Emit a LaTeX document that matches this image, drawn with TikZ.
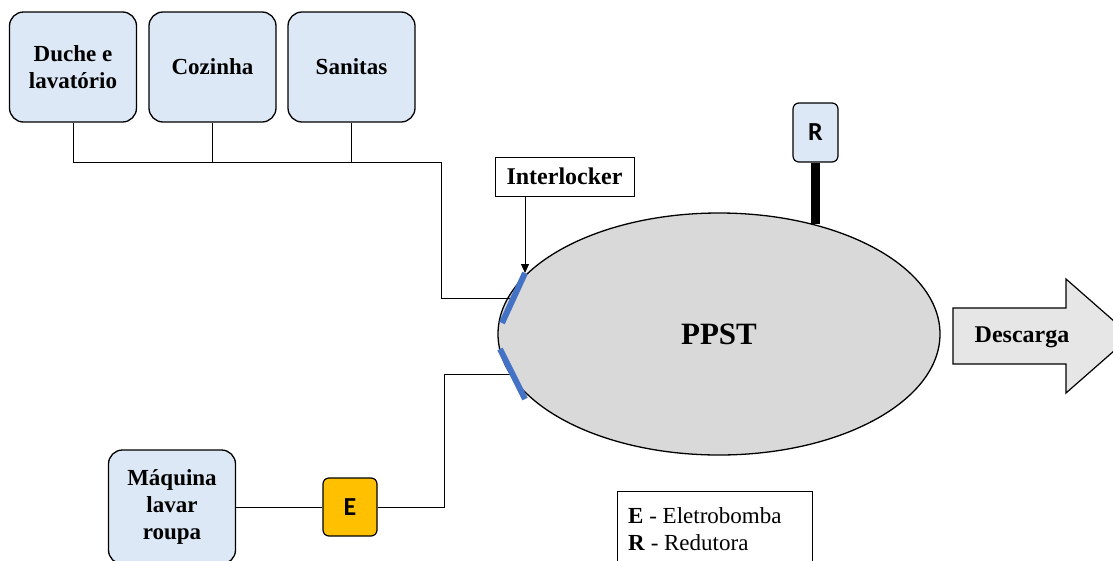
\documentclass[tikz,border=0pt]{standalone}
\usepackage{fontspec}
\setmainfont{Liberation Serif}
\newfontfamily\calibsf{Carlito}
\usetikzlibrary{arrows.meta, shapes.geometric, positioning, calc}
\definecolor{boxblue}  {RGB}{220, 232, 245}
\definecolor{tankgrey} {RGB}{217, 217, 217}
\definecolor{lockblue} {RGB}{68,  114, 196}
\definecolor{pumpgold} {RGB}{255, 192, 0}
\definecolor{outgrey}  {RGB}{231, 230, 230}

\tikzset{
	srcbox/.style={draw, line width=1.3pt, rounded corners=14pt, fill=boxblue, align=center,
		font=\bfseries\fontsize{23}{27}\selectfont, minimum width=127pt, minimum height=110pt, inner sep=0pt},
	tagbox/.style={draw, line width=1.2pt, rounded corners=6pt, inner sep=0pt,
		font=\calibsf\bfseries\fontsize{26}{28}\selectfont},
	pipe/.style={line width=0.8pt},
	lockbar/.style={line width=6pt, lockblue}
}

\begin{document}
\begin{tikzpicture}[x=1pt, y=-1pt]
				\useasboundingbox (0,0) rectangle (1113,560);
				% sources
				\node[srcbox] (duche) at (73,67) {Duche e\\lavatório};
				\node[srcbox] (cozinha) at (212.5,67) {Cozinha};
				\node[srcbox] (sanitas) at (351.5,67) {Sanitas};
				\node[srcbox, minimum height=114pt] (maquina) at (172,507) {Máquina\\lavar\\roupa};
				% tank
				\node[ellipse, draw, line width=1.3pt, fill=tankgrey, minimum width=442pt, minimum height=242pt,
					inner sep=0pt, font=\bfseries\fontsize{31}{34}\selectfont] (ppst) at (719,334) {PPST};
				\node[tagbox, fill=pumpgold, minimum width=54pt, minimum height=58pt] (pumpE) at (350,507) {E};
				\node[tagbox, fill=boxblue, minimum width=45pt, minimum height=59pt] (reduct) at (815.5,132.5) {R};
				\draw[line width=9pt] (reduct.south) -- (reduct.south |- ppst.49);
				% interlockers
				\coordinate (lockup1) at (525,273);
				\coordinate (lockup2) at (502,323);
				\coordinate (lockdn1) at (500,349);
				\coordinate (lockdn2) at (525,399);
				\coordinate (inlet) at ($(lockup1)!0.5!(lockup2)$);
				\coordinate (outlet) at ($(lockdn1)!0.5!(lockdn2)$);
				\coordinate (jn) at (441,162);
				\draw[pipe] (duche.south) |- (jn) |- (inlet);
				\draw[pipe] (cozinha.south) -- (cozinha.south |- jn);
				\draw[pipe] (sanitas.south) -- (sanitas.south |- jn);
				\draw[pipe] (maquina.east) -- (pumpE.west);
				\draw[pipe] (pumpE.east) -- ++(67,0) |- (outlet);
				\draw[lockbar] (lockup1) -- (lockup2);
				\draw[lockbar] (lockdn1) -- (lockdn2);
				\node[draw, line width=0.8pt, minimum width=139pt, minimum height=39pt, inner sep=0pt,
					font=\bfseries\fontsize{24}{26}\selectfont] (interlock) at (564.5,176.5) {Interlocker};
				\draw[pipe, -{Triangle[length=9pt, width=8pt]}] (interlock.south -| lockup1) -- (lockup1);
				% discharge
				\draw[line width=1.2pt, fill=outgrey] (953,308) -- (1066,308) -- (1066,279) -- (1131,336)
					-- (1066,393) -- (1066,364) -- (953,364) -- cycle;
				\node[font=\bfseries\fontsize{24}{26}\selectfont] (descarga) at (1022,337) {Descarga};
				% legend
				\draw[line width=0.8pt] (617,491) rectangle (812,585);
				\node[anchor=west, align=left, inner sep=0pt, font=\fontsize{23}{27}\selectfont] (legend) at (628,529)
					{\textbf{E} - Eletrobomba\\\textbf{R} - Redutora};
			\end{tikzpicture}
\end{document}
